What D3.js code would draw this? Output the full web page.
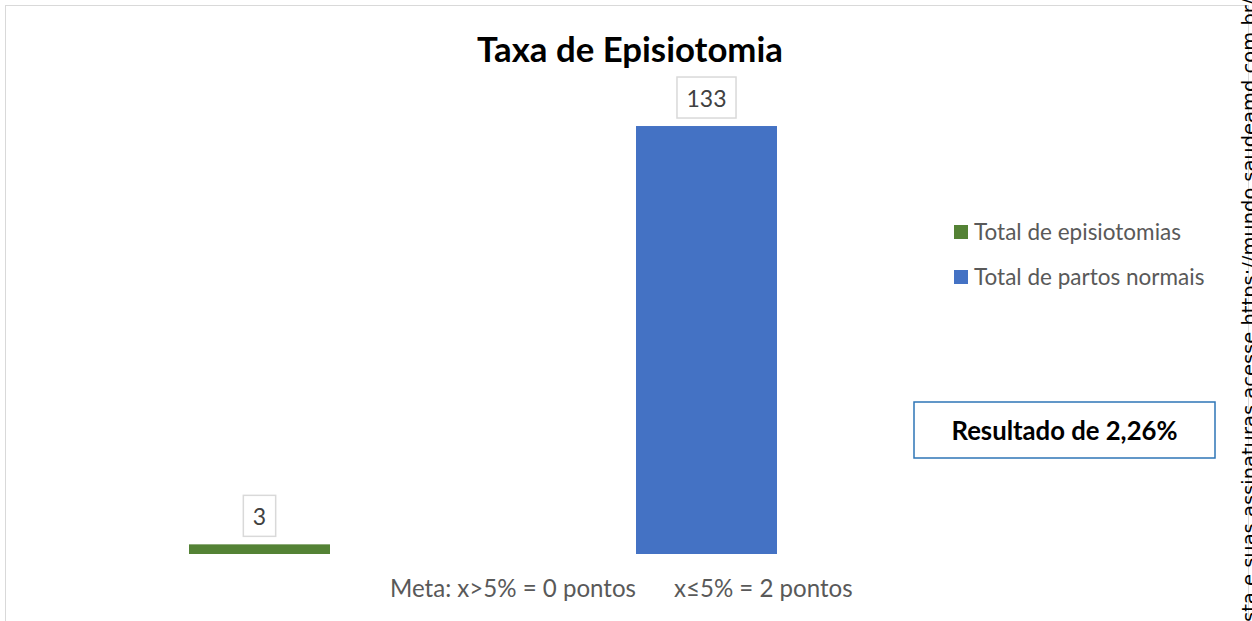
<!DOCTYPE html>
<html>
<head>
<meta charset="utf-8">
<script src="https://cdn.jsdelivr.net/npm/d3@7"></script>
<style>
  body { margin: 0; background: #fff; }
  svg { display: block; }
</style>
</head>
<body>
<svg id="chart" width="1252" height="621"></svg>
<script>
// chart values
var categories = ["Total de episiotomias", "Total de partos normais"]
var values = [3, 133]
var chartTitle = "Taxa de Episiotomia"
var resultLabel = "Resultado de 2,26%"
var metaLabels = ["Meta: x>5% = 0 pontos", "x\u22645% = 2 pontos"]
var sideNote = "sta e suas assinaturas acesse https://mundo.saudeamd.com.br/"

var svg = d3.select("#chart")
var font = "Lato, 'Open Sans', sans-serif"

// scales the font of a text so it takes the given width (Calibri stand-in)
function fitWidth(sel, target) {
    var base = parseFloat(sel.style("font-size"))
    var w = sel.node().getComputedTextLength()
    sel.style("font-size", (base * target / w).toFixed(2) + "px")
}

// chart area border
svg.append("rect")
    .attr("x", 5.5).attr("y", 5.5)
    .attr("width", 1243).attr("height", 640)
    .attr("fill", "#fff")
    .attr("stroke", "#d9d9d9")
    .attr("stroke-width", 1)

var color = d3.scaleOrdinal().domain(categories).range(["#548235", "#4472C4"])

var xScale = d3.scaleBand()
    .domain(categories)
    .range([36, 930])
    .paddingInner(0.6846)
    .paddingOuter(0.3423)

var yScale = d3.scaleLinear()
    .domain([0, 140])
    .range([554, 103.5])

// title
svg.append("text")
    .attr("x", 630).attr("y", 62)
    .attr("text-anchor", "middle")
    .style("font-family", font)
    .style("font-weight", "bold")
    .style("font-size", "33px")
    .attr("fill", "#000")
    .text(chartTitle)
    .call(fitWidth, 306)

// bars
var data = categories.map(function(c, i) { return {name: c, value: values[i]} })

svg.selectAll(".bar")
    .data(data)
    .enter()
    .append("rect")
    .attr("class", "bar")
    .attr("x", function(d) { return xScale(d.name) })
    .attr("width", xScale.bandwidth())
    .attr("y", function(d) { return yScale(d.value) })
    .attr("height", function(d) { return yScale(0) - yScale(d.value) })
    .attr("fill", function(d) { return color(d.name) })

// data labels with boxes
var labels = svg.selectAll(".label")
    .data(data)
    .enter()
    .append("g")
    .attr("class", "label")

labels.each(function(d) {
    var g = d3.select(this)
    var cx = xScale(d.name) + xScale.bandwidth() / 2
    var boxBottom = yScale(d.value) - 8
    var box = g.append("rect")
    var t = g.append("text")
        .attr("x", cx)
        .attr("y", boxBottom - 11)
        .attr("text-anchor", "middle")
        .style("font-family", font)
        .style("font-size", "23px")
        .attr("fill", "#404040")
        .text(d.value)
    var w = t.node().getComputedTextLength() + 19
    box.attr("x", cx - w / 2)
        .attr("y", boxBottom - 41)
        .attr("width", w)
        .attr("height", 41)
        .attr("fill", "#fff")
        .attr("stroke", "#d9d9d9")
        .attr("stroke-width", 1.5)
})

// legend
var legend = svg.selectAll(".legend")
    .data(categories)
    .enter()
    .append("g")
    .attr("class", "legend")
    .attr("transform", function(d, i) { return "translate(954," + (232 + i * 45) + ")" })

legend.append("rect")
    .attr("x", 0).attr("y", -7)
    .attr("width", 14).attr("height", 14)
    .attr("fill", function(d) { return color(d) })

var legendText = legend.append("text")
    .attr("x", 20).attr("y", 8)
    .style("font-family", font)
    .style("font-size", "22px")
    .attr("fill", "#595959")
    .text(function(d) { return d })
var legendBase = legendText.filter(function(d, i) { return i == 0 })
fitWidth(legendBase, 207)
legendText.style("font-size", legendBase.style("font-size"))

// result box
svg.append("rect")
    .attr("x", 914).attr("y", 402)
    .attr("width", 301).attr("height", 56)
    .attr("fill", "#fff")
    .attr("stroke", "#2e75b6")
    .attr("stroke-width", 1.5)

svg.append("text")
    .attr("x", 1064.5).attr("y", 440)
    .attr("text-anchor", "middle")
    .style("font-family", font)
    .style("font-weight", "bold")
    .style("font-size", "24px")
    .attr("fill", "#000")
    .text(resultLabel)
    .call(fitWidth, 226)

// goal note below the bars
var meta = svg.selectAll(".meta")
    .data(metaLabels)
    .enter()
    .append("text")
    .attr("class", "meta")
    .attr("x", function(d, i) { return i == 0 ? 390 : 674 })
    .attr("y", 597)
    .style("font-family", font)
    .style("font-size", "22.5px")
    .attr("fill", "#595959")
    .text(function(d) { return d })
var metaBase = meta.filter(function(d, i) { return i == 0 })
fitWidth(metaBase, 246)
meta.style("font-size", metaBase.style("font-size"))

// cut-off vertical note on the right edge
svg.append("text")
    .attr("transform", "translate(1256,622) rotate(-90)")
    .style("font-family", "'DejaVu Sans', sans-serif")
    .style("font-size", "19.5px")
    .attr("fill", "#000")
    .text(sideNote)
</script>
</body>
</html>
